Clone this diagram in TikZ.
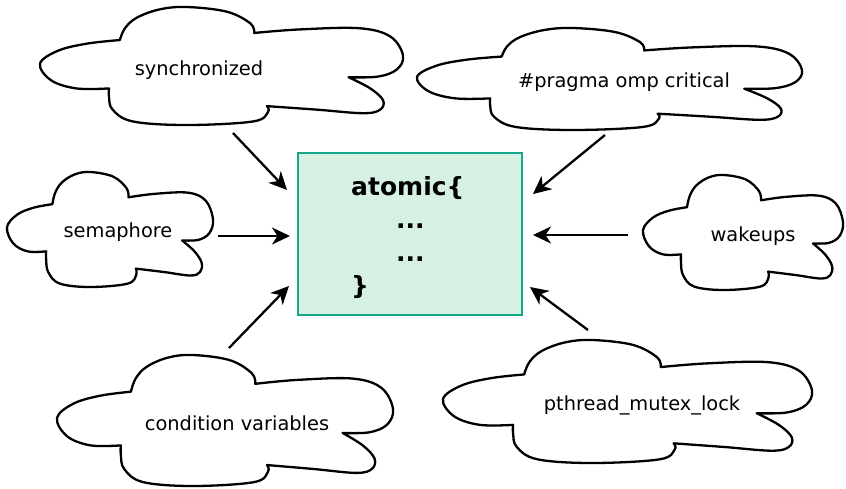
\documentclass[tikz,border=0pt]{standalone}
\usepackage{fontspec}
\setmainfont{DejaVu Sans}
\usetikzlibrary{arrows.meta}
\definecolor{boxfill}{HTML}{D6F0E4}
\definecolor{boxline}{HTML}{16A88A}
\tikzset{
  cloudline/.style={line width=2.3pt, line join=round, black},
  cloudtext/.style={font=\fontsize{19.4}{23}\selectfont, inner sep=0pt},
  codetext/.style={font=\fontsize{25}{30}\selectfont\bfseries, inner sep=0pt, anchor=base west},
  arr/.style={line width=2.3pt, -{Stealth[length=18pt,width=17pt,inset=5.5pt]}},
}
\newcommand\drawcloud[4]{%
  \begin{scope}[shift={(#1,#2)},xscale=#3,yscale=#4]
    \draw[cloudline]
      plot[smooth,tension=0.6] coordinates {(0.22,0.28) (0.234,0.18) (0.267,0.09) (0.33,0.02) (0.405,0) (0.515,0.04) (0.58,0.14) (0.59,0.22)}
      -- plot[smooth,tension=0.6] coordinates {(0.59,0.22) (0.716,0.19) (0.88,0.18) (0.965,0.25) (1.0,0.41) (0.983,0.53) (0.93,0.59) (0.85,0.595)}
      -- plot[smooth,tension=0.6] coordinates {(0.85,0.595) (0.91,0.69) (0.945,0.79) (0.937,0.87) (0.89,0.90) (0.763,0.87) (0.625,0.84)}
      -- plot[smooth,tension=0.6] coordinates {(0.625,0.84) (0.628,0.89) (0.587,0.97) (0.405,1.0) (0.256,0.97) (0.20,0.87) (0.19,0.76) (0.19,0.69)}
      -- plot[smooth,tension=0.6] coordinates {(0.19,0.69) (0.10,0.69) (0.03,0.62) (0.0,0.48) (0.05,0.37) (0.13,0.31) (0.22,0.28)}
      -- cycle;
  \end{scope}}
\begin{document}
\begin{tikzpicture}[x=1pt,y=-1pt]
\useasboundingbox (0,0) rectangle (846,488);
% clouds
\drawcloud{40}{7}{363}{118}
\drawcloud{417}{28}{385}{102}
\drawcloud{7}{172}{206}{115}
\drawcloud{643}{175}{200}{115}
\drawcloud{57}{355}{336}{131}
\drawcloud{443}{340}{369}{123}
% cloud texts
\node[cloudtext] (sync) at (199,70) {synchronized};
\node[cloudtext] (pragma) at (624,82) {\#pragma omp critical};
\node[cloudtext] (sem) at (118,232) {semaphore};
\node[cloudtext] (wake) at (753,236) {wakeups};
\node[cloudtext] (cond) at (237,423) {condition variables};
\node[cloudtext] (pth) at (642,405) {pthread\_mutex\_lock};
% central box
\node[draw=boxline, fill=boxfill, line width=2pt, minimum width=224pt, minimum height=162pt, inner sep=0pt] (box) at (410,234) {};
\node[codetext] (l1) at (351,195) {atomic\{};
\node[codetext] (l2) at (396,228) {...};
\node[codetext] (l3) at (396,261) {...};
\node[codetext] (l4) at (351,294) {\}};
% arrow end points
\coordinate (a1) at (233,133); \coordinate (b1) at (287,190);
\coordinate (a2) at (218,236); \coordinate (b2) at (290,236);
\coordinate (a3) at (229,348); \coordinate (b3) at (289,286);
\coordinate (a4) at (605,135); \coordinate (b4) at (533,194);
\coordinate (a5) at (628,235); \coordinate (b5) at (533,235);
\coordinate (a6) at (588,330); \coordinate (b6) at (530,287);
\draw[arr] (a1) -- (b1);
\draw[arr] (a2) -- (b2);
\draw[arr] (a3) -- (b3);
\draw[arr] (a4) -- (b4);
\draw[arr] (a5) -- (b5);
\draw[arr] (a6) -- (b6);
\end{tikzpicture}
\end{document}
